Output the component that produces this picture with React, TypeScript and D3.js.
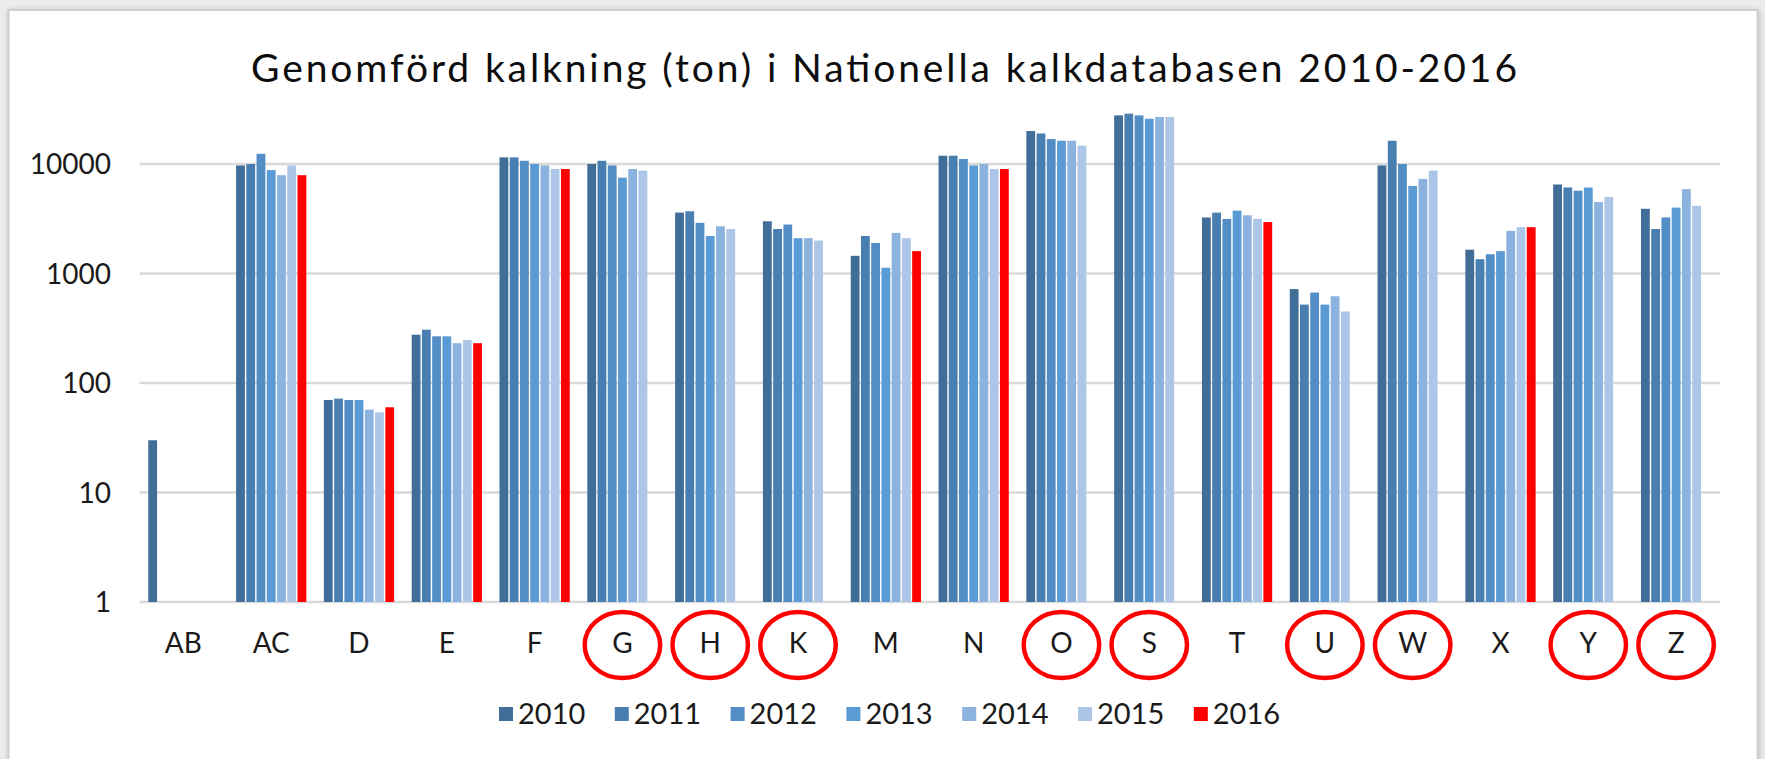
import React from "react"
import * as d3 from "d3"

const categories = ["AB", "AC", "D", "E", "F", "G", "H", "K", "M", "N", "O", "S", "T", "U", "W", "X", "Y", "Z"]
const years = ["2010", "2011", "2012", "2013", "2014", "2015", "2016"]
const circled = ["G", "H", "K", "O", "S", "U", "W", "Y", "Z"]

const v2010 = [30, 9700, 70, 276, 11500, 10000, 3600, 3000, 1450, 11900, 20000, 27800, 3250, 720, 9700, 1650, 6500, 3900]
const v2011 = [null, 10000, 72, 307, 11500, 10700, 3700, 2550, 2200, 11900, 19000, 28800, 3600, 520, 16300, 1350, 6100, 2550]
const v2012 = [null, 12400, 70, 267, 10700, 9700, 2900, 2800, 1900, 11100, 16900, 27800, 3150, 670, 10000, 1500, 5700, 3250]
const v2013 = [null, 8800, 70, 267, 10000, 7500, 2200, 2100, 1130, 9700, 16300, 25900, 3750, 520, 6300, 1600, 6100, 4000]
const v2014 = [null, 7900, 57, 231, 9700, 9000, 2700, 2100, 2350, 10000, 16300, 26900, 3400, 620, 7300, 2450, 4500, 5900]
const v2015 = [null, 9700, 54, 247, 9000, 8700, 2550, 2000, 2100, 9000, 14700, 26900, 3150, 450, 8700, 2650, 5000, 4150]
const v2016 = [null, 7900, 60, 231, 9000, null, null, null, 1600, 9000, null, null, 2950, null, null, 2650, null, null]

const series = [v2010, v2011, v2012, v2013, v2014, v2015, v2016]
const colors = ["#416d99", "#497eb1", "#528dc5", "#5b9bd5", "#8cb2df", "#adc6e8", "#ff0000"]
const yTicks = [1, 10, 100, 1000, 10000]

const W = 1765
const H = 759
const font = "Lato, 'Open Sans', sans-serif"

export default function App() {
	const margin = { left: 139.5, right: 1720, top: 164, bottom: 602 }

	const x0 = d3
		.scaleBand()
		.domain(categories)
		.range([margin.left, margin.right])
		.paddingInner(0.2)
		.paddingOuter(0.1)

	const x1 = d3
		.scaleBand()
		.domain(years)
		.range([0, x0.bandwidth()])
		.paddingInner(0.14)

	const y = d3.scaleLog().domain([1, 10000]).range([margin.bottom, margin.top])

	const step = x0.step()
	const legendX = d3
		.scaleBand()
		.domain(years)
		.range([499, 499 + 7 * 115.8])

	return (
		<svg
			width={W}
			height={H}
			style={{ position: "absolute", left: 0, top: 0, display: "block" }}>
			<defs>
				<filter id="shadow" x="-5%" y="-5%" width="110%" height="110%">
					<feDropShadow dx="1" dy="1" stdDeviation="3" floodColor="#9a9a9a" floodOpacity="0.6" />
				</filter>
			</defs>
			<rect x={0} y={0} width={W} height={H} fill="#ededed" />
			<rect
				x={8.5}
				y={10}
				width={1749}
				height={780}
				fill="#ffffff"
				stroke="#d0d0d0"
				strokeWidth={2}
				filter="url(#shadow)"
			/>

			<text
				x={884}
				y={82}
				textAnchor="middle"
				textLength={1266}
				lengthAdjust="spacing"
				fontFamily={font}
				fontSize={39}
				fill="#0d0d0d">
				Genomförd kalkning (ton) i Nationella kalkdatabasen 2010-2016
			</text>

			{/* gridlines + y labels */}
			{yTicks.map((t) => (
				<g key={t}>
					<line
						x1={margin.left}
						x2={margin.right}
						y1={y(t)}
						y2={y(t)}
						stroke="#d9d9d9"
						strokeWidth={2.5}
					/>
					<text
						x={111}
						y={y(t)}
						dy="0.36em"
						textAnchor="end"
						fontFamily={font}
						fontSize={28}
						fill="#1a1a1a">
						{t}
					</text>
				</g>
			))}

			{/* bars */}
			{categories.map((c, ci) => (
				<g key={c} transform={`translate(${x0(c)},0)`}>
					{series.map((s, si) => {
						const v = s[ci]
						if (v == null) return null
						return (
							<rect
								key={si}
								x={x1(years[si])}
								y={y(v)}
								width={x1.bandwidth()}
								height={y(1) - y(v)}
								fill={colors[si]}
							/>
						)
					})}
				</g>
			))}

			{/* category labels */}
			{categories.map((c) => {
				const cx = (x0(c) as number) + x0.bandwidth() / 2
				return (
					<g key={c}>
						<text
							x={cx}
							y={643}
							dy="0.36em"
							textAnchor="middle"
							fontFamily={font}
							fontSize={28}
							fill="#1a1a1a">
							{c}
						</text>
						{circled.includes(c) && (
							<ellipse
								cx={cx}
								cy={645}
								rx={step * 0.43}
								ry={33}
								fill="none"
								stroke="#ff0000"
								strokeWidth={4.5}
							/>
						)}
					</g>
				)
			})}

			{/* legend */}
			{years.map((yr, i) => (
				<g key={yr} transform={`translate(${legendX(yr)},714)`}>
					<rect x={0} y={-7} width={14} height={14} fill={colors[i]} />
					<text
						x={19}
						y={0}
						dy="0.36em"
						fontFamily={font}
						fontSize={29}
						fill="#1a1a1a">
						{yr}
					</text>
				</g>
			))}
		</svg>
	)
}
